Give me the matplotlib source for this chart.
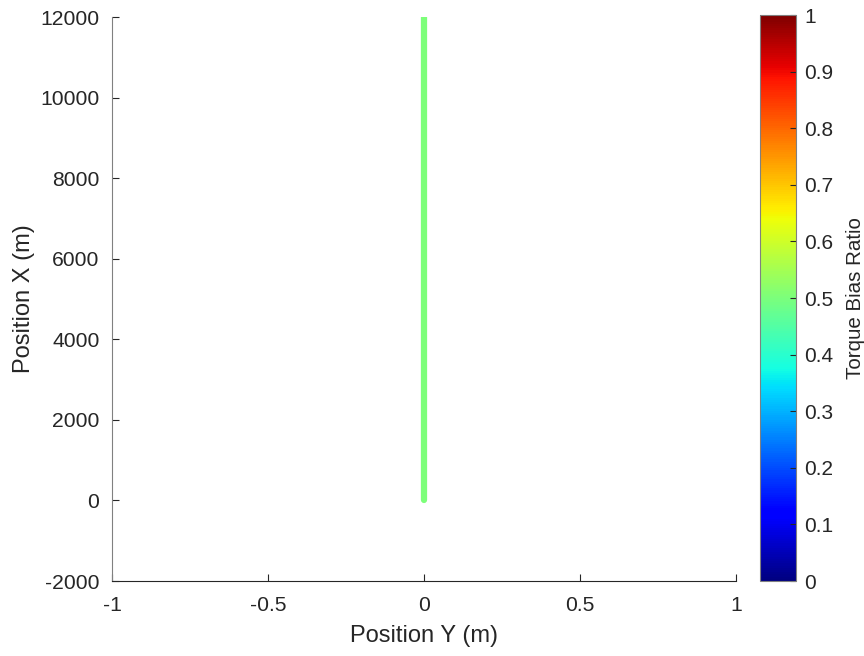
import matplotlib.pyplot as plt
import matplotlib as mpl
import numpy as np

plt.rcParams['font.family'] = ['Liberation Sans', 'DejaVu Sans']

# data
pos_y = [0, 0]
pos_x = [0, 12000]
bias = 0.5

xticks = [-1, -0.5, 0, 0.5, 1]
yticks = [-2000, 0, 2000, 4000, 6000, 8000, 10000, 12000]
cticks = [0, 0.1, 0.2, 0.3, 0.4, 0.5, 0.6, 0.7, 0.8, 0.9, 1]

txt = '#262626'
cmap = plt.get_cmap('jet')
norm = mpl.colors.Normalize(0, 1)

fig = plt.figure(figsize=(8.64, 6.56), dpi=100)
ax = fig.add_axes([0.1296, 0.1143, 0.7223, 0.8597])
ax.plot(pos_y, pos_x, color=cmap(norm(bias)), lw=4.5, solid_capstyle='round')

ax.set_xlim(-1, 1)
ax.set_ylim(-2000, 12000)
ax.set_xticks(xticks)
ax.set_xticklabels(['-1', '-0.5', '0', '0.5', '1'])
ax.set_yticks(yticks)
ax.set_yticklabels([str(v) for v in yticks])
ax.tick_params(direction='in', labelsize=15.2, colors=txt, length=5, width=0.8)
ax.tick_params(axis='x', pad=11)
ax.tick_params(axis='y', pad=9)
for s in ['top', 'right']:
    ax.spines[s].set_visible(False)
ax.spines['left'].set_color('#808080')
ax.spines['bottom'].set_color(txt)
ax.set_xlabel('Position Y (m)', fontsize=17, color=txt, labelpad=7)
ax.set_ylabel('Position X (m)', fontsize=17, color=txt, labelpad=4)

cax = fig.add_axes([0.8796, 0.1143, 0.0417, 0.8628])
cb = mpl.colorbar.ColorbarBase(cax, cmap=cmap, norm=norm, ticks=cticks)
cb.set_ticklabels([f'{v:g}' for v in cticks])
cb.outline.set_edgecolor('#808080')
cb.outline.set_linewidth(0.8)
cax.tick_params(direction='in', labelsize=15, colors=txt, length=4, width=0.8, pad=6)
cb.set_label('Torque Bias Ratio', fontsize=14.8, color=txt, labelpad=9)

fig.savefig('out.png', dpi=100)
